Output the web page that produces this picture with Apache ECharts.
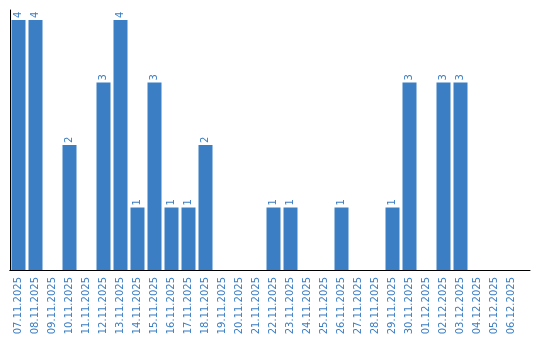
<!DOCTYPE html>
<html><head><meta charset="utf-8">
<script src="https://cdn.jsdelivr.net/npm/echarts@6/dist/echarts.min.js"></script>
<style>html,body{margin:0;padding:0;background:#fff}#c{width:540px;height:340px}</style>
</head><body><div id="c"></div>
<script>
const categories = ['07.11.2025','08.11.2025','09.11.2025','10.11.2025','11.11.2025','12.11.2025','13.11.2025','14.11.2025','15.11.2025','16.11.2025','17.11.2025','18.11.2025','19.11.2025','20.11.2025','21.11.2025','22.11.2025','23.11.2025','24.11.2025','25.11.2025','26.11.2025','27.11.2025','28.11.2025','29.11.2025','30.11.2025','01.12.2025','02.12.2025','03.12.2025','04.12.2025','05.12.2025','06.12.2025'];
const values = [4,4,0,2,0,3,4,1,3,1,1,2,0,0,0,1,1,0,0,1,0,0,1,3,0,3,3,0,0,0];
const blue = '#3b7ec3';
const chart = echarts.init(document.getElementById('c'));
chart.setOption({
  animation: false,
  grid: [
    {left: 10, top: 10, width: 510, bottom: 70, containLabel: false},
    {left: 10, top: 10, width: 520, bottom: 70, containLabel: false}
  ],
  xAxis: [
    {type: 'category', data: categories, gridIndex: 0,
     axisLine: {show: true, lineStyle: {color: '#000', width: 1}},
     axisTick: {show: false},
     axisLabel: {rotate: 90, color: blue, fontFamily: 'DejaVu Sans', fontSize: 10, margin: 7, interval: 0}},
    {type: 'value', gridIndex: 1, min: 0, max: 1,
     axisLine: {show: true, lineStyle: {color: '#000', width: 1}},
     axisTick: {show: false}, axisLabel: {show: false}, splitLine: {show: false}}
  ],
  yAxis: [
    {type: 'value', gridIndex: 0, min: 0, max: 4.16,
     axisLine: {show: true, lineStyle: {color: '#000', width: 1}},
     axisTick: {show: false}, axisLabel: {show: false}, splitLine: {show: false}},
    {type: 'value', gridIndex: 1, min: 0, max: 1, show: false}
  ],
  series: [{
    type: 'bar', xAxisIndex: 0, yAxisIndex: 0, data: values, barWidth: 14,
    itemStyle: {color: blue},
    label: {show: true, position: 'top', rotate: 90, align: 'left', verticalAlign: 'middle',
      distance: 2, color: blue, fontFamily: 'DejaVu Sans', fontSize: 10,
      formatter: p => p.value ? String(p.value) : ''}
  }]
});
</script></body></html>
